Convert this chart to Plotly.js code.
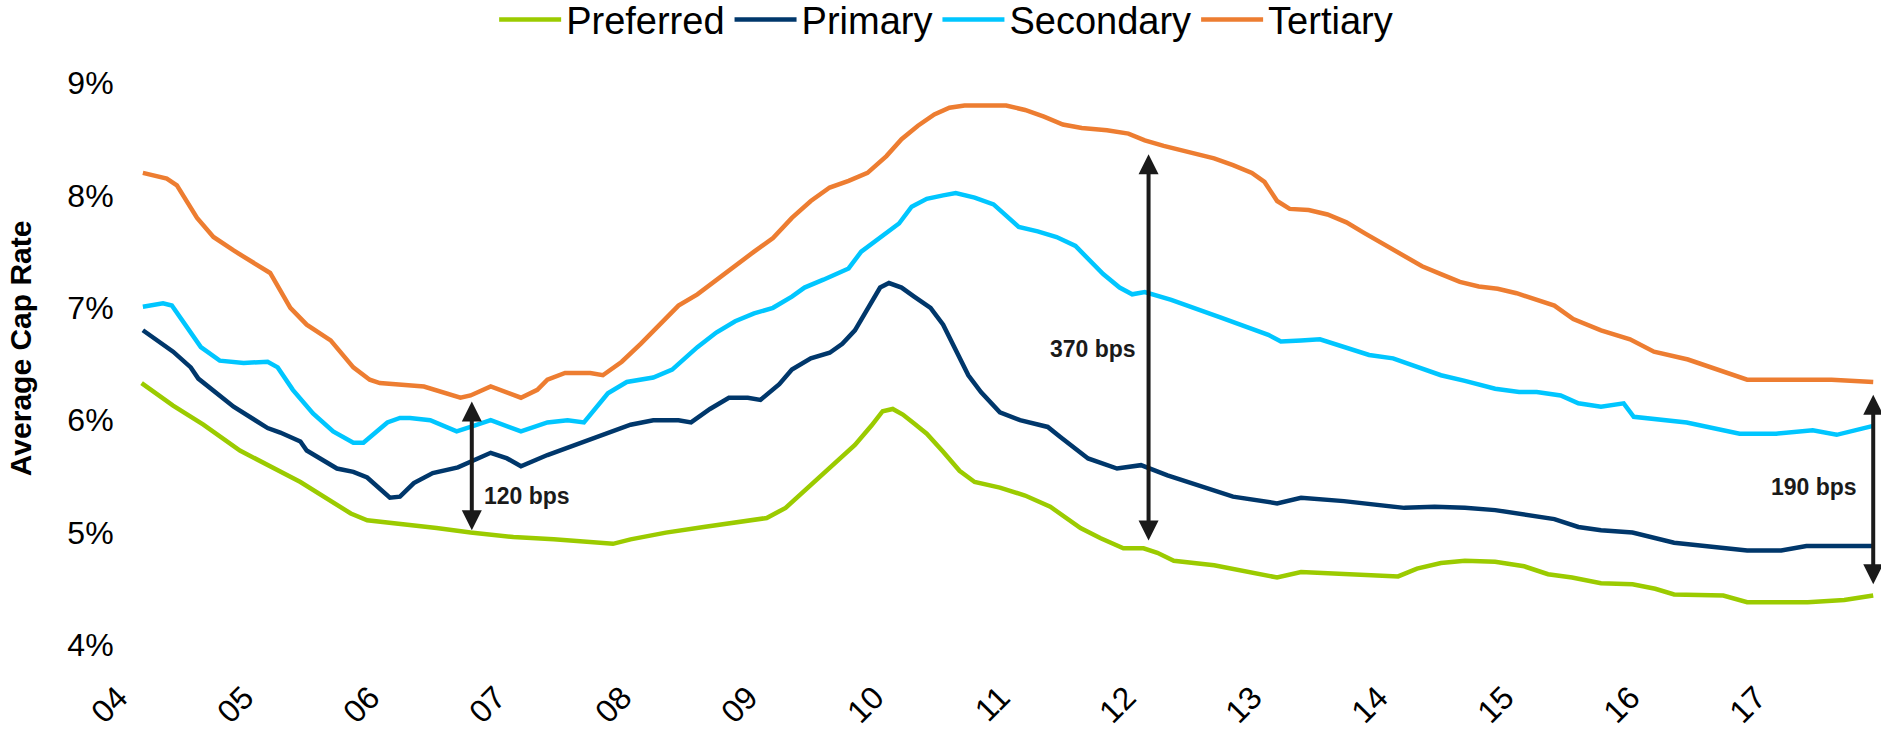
<!DOCTYPE html>
<html>
<head>
<meta charset="utf-8">
<script src="https://cdn.plot.ly/plotly-3.0.1.min.js"></script>
<style>
  html, body { margin: 0; padding: 0; background: #ffffff; }
  #chart { width: 1881px; height: 731px; }
</style>
</head>
<body>
<div id="chart"></div>
<script>
// ---- Data (decimal years, cap rate in %) ----
const preferredX = [2004.09,2004.34,2004.58,2004.87,2005.35,2005.63,2005.75,2005.88,2006.14,2006.43,2006.70,2007.04,2007.36,2007.70,2007.83,2007.97,2008.25,2008.55,2008.85,2009.05,2009.20,2009.40,2009.60,2009.75,2009.88,2009.97,2010.05,2010.13,2010.22,2010.32,2010.45,2010.58,2010.70,2010.82,2010.90,2011.10,2011.30,2011.54,2011.70,2011.88,2012.04,2012.15,2012.28,2012.60,2012.89,2013.10,2013.29,2013.63,2013.87,2014.06,2014.21,2014.40,2014.59,2014.83,2015.06,2015.25,2015.44,2015.67,2015.92,2016.10,2016.25,2016.64,2016.83,2017.31,2017.60,2017.83];
const preferredY = [6.33,6.13,5.96,5.73,5.45,5.25,5.17,5.11,5.08,5.04,5.00,4.96,4.94,4.91,4.90,4.94,5.00,5.05,5.10,5.13,5.22,5.42,5.62,5.78,5.95,6.08,6.10,6.05,5.97,5.88,5.72,5.55,5.45,5.42,5.40,5.33,5.23,5.04,4.95,4.86,4.86,4.82,4.75,4.71,4.65,4.60,4.65,4.63,4.62,4.61,4.68,4.73,4.75,4.74,4.70,4.63,4.60,4.55,4.54,4.50,4.45,4.44,4.38,4.38,4.40,4.44];

const primaryX = [2004.10,2004.34,2004.48,2004.54,2004.82,2005.09,2005.19,2005.35,2005.40,2005.64,2005.77,2005.88,2006.06,2006.14,2006.25,2006.40,2006.60,2006.86,2006.99,2007.10,2007.31,2007.57,2007.79,2007.97,2008.15,2008.35,2008.45,2008.60,2008.75,2008.90,2009.00,2009.15,2009.25,2009.40,2009.55,2009.65,2009.75,2009.85,2009.95,2010.02,2010.12,2010.22,2010.35,2010.45,2010.55,2010.65,2010.75,2010.85,2010.90,2011.06,2011.28,2011.38,2011.60,2011.83,2012.02,2012.23,2012.49,2012.75,2013.10,2013.23,2013.29,2013.63,2013.87,2014.11,2014.35,2014.59,2014.83,2015.06,2015.30,2015.49,2015.67,2015.92,2016.11,2016.25,2016.83,2017.10,2017.30,2017.83];
const primaryY = [6.80,6.61,6.47,6.37,6.12,5.93,5.89,5.81,5.73,5.57,5.54,5.49,5.31,5.32,5.44,5.53,5.58,5.71,5.66,5.59,5.69,5.80,5.89,5.96,6.00,6.00,5.98,6.10,6.20,6.20,6.18,6.32,6.45,6.55,6.60,6.68,6.80,7.00,7.18,7.22,7.18,7.10,7.00,6.85,6.62,6.40,6.25,6.12,6.07,6.00,5.94,5.85,5.66,5.57,5.60,5.51,5.41,5.32,5.26,5.29,5.31,5.28,5.25,5.22,5.23,5.22,5.20,5.16,5.12,5.05,5.02,5.00,4.95,4.91,4.84,4.84,4.88,4.88];

const secondaryX = [2004.10,2004.26,2004.33,2004.56,2004.71,2004.90,2005.09,2005.17,2005.29,2005.45,2005.61,2005.77,2005.85,2006.04,2006.14,2006.22,2006.38,2006.59,2006.70,2006.86,2007.10,2007.31,2007.47,2007.60,2007.79,2007.94,2008.15,2008.30,2008.40,2008.50,2008.65,2008.80,2008.95,2009.10,2009.25,2009.35,2009.50,2009.60,2009.70,2009.80,2009.95,2010.10,2010.20,2010.32,2010.45,2010.55,2010.70,2010.85,2010.95,2011.05,2011.20,2011.35,2011.50,2011.62,2011.72,2011.85,2011.95,2012.05,2012.26,2012.66,2012.87,2013.03,2013.13,2013.24,2013.29,2013.44,2013.63,2013.83,2014.02,2014.21,2014.40,2014.59,2014.83,2015.02,2015.16,2015.35,2015.49,2015.67,2015.85,2015.93,2016.19,2016.35,2016.77,2017.06,2017.35,2017.54,2017.83];
const secondaryY = [7.01,7.04,7.02,6.65,6.53,6.51,6.52,6.47,6.27,6.06,5.90,5.80,5.80,5.98,6.02,6.02,6.00,5.90,5.94,6.00,5.90,5.98,6.00,5.98,6.24,6.34,6.38,6.45,6.55,6.65,6.78,6.88,6.95,7.00,7.10,7.18,7.25,7.30,7.35,7.50,7.62,7.75,7.90,7.97,8.00,8.02,7.98,7.92,7.82,7.72,7.68,7.63,7.55,7.42,7.30,7.18,7.12,7.14,7.07,6.91,6.83,6.76,6.70,6.70,6.71,6.72,6.65,6.58,6.55,6.48,6.40,6.35,6.28,6.25,6.25,6.22,6.15,6.12,6.15,6.03,6.00,5.98,5.88,5.88,5.91,5.87,5.95];

const tertiaryX = [2004.10,2004.29,2004.37,2004.53,2004.66,2004.82,2005.11,2005.27,2005.40,2005.59,2005.77,2005.90,2005.98,2006.33,2006.62,2006.70,2006.86,2007.10,2007.23,2007.31,2007.45,2007.65,2007.75,2007.90,2008.05,2008.20,2008.35,2008.50,2008.65,2008.80,2008.95,2009.10,2009.25,2009.40,2009.55,2009.70,2009.85,2010.00,2010.12,2010.25,2010.38,2010.50,2010.62,2010.95,2011.10,2011.25,2011.40,2011.55,2011.75,2011.92,2012.05,2012.20,2012.40,2012.60,2012.75,2012.90,2013.00,2013.10,2013.20,2013.35,2013.50,2013.65,2013.80,2013.95,2014.10,2014.25,2014.40,2014.55,2014.70,2014.85,2015.00,2015.15,2015.30,2015.45,2015.67,2015.90,2016.09,2016.36,2016.83,2017.50,2017.83];
const tertiaryY = [8.20,8.15,8.09,7.80,7.63,7.51,7.31,7.00,6.85,6.71,6.47,6.36,6.33,6.30,6.20,6.22,6.30,6.20,6.27,6.36,6.42,6.42,6.40,6.52,6.68,6.85,7.02,7.12,7.25,7.38,7.50,7.62,7.80,7.95,8.07,8.13,8.20,8.35,8.50,8.62,8.72,8.78,8.80,8.80,8.76,8.70,8.63,8.60,8.58,8.55,8.49,8.44,8.38,8.33,8.27,8.20,8.12,7.95,7.88,7.87,7.83,7.76,7.66,7.56,7.46,7.37,7.30,7.23,7.19,7.17,7.13,7.08,7.02,6.90,6.80,6.72,6.61,6.54,6.36,6.36,6.34];

const seriesNames = ["Preferred", "Primary", "Secondary", "Tertiary"];
const seriesColors = ["#9BCB00", "#00376B", "#00C6FF", "#ED7D31"];

const yearTicks = [2004,2005,2006,2007,2008,2009,2010,2011,2012,2013,2014,2015,2016,2017];
const yearLabels = ["04","05","06","07","08","09","10","11","12","13","14","15","16","17"];
const rateTicks = [4,5,6,7,8,9];
const rateLabels = ["4%","5%","6%","7%","8%","9%"];

// spread arrows between Preferred and Tertiary
const spreadYears = [2006.71, 2012.08, 2017.83];
const spreadLow = [5.02, 4.93, 4.54];
const spreadHigh = [6.18, 8.38, 6.24];
const spreadText = ["120 bps", "370 bps", "190 bps"];
const spreadTextX = [2007.15, 2011.64, 2017.36];
const spreadTextY = [5.33, 6.63, 5.41];

const xs = [preferredX, primaryX, secondaryX, tertiaryX];
const ys = [preferredY, primaryY, secondaryY, tertiaryY];

const traces = seriesNames.map((n, i) => ({
  type: "scatter", mode: "lines", name: n,
  x: xs[i], y: ys[i],
  line: { color: seriesColors[i], width: 4.5 },
  hoverinfo: "x+y"
}));

const annotations = [];
spreadYears.forEach((yr, i) => {
  annotations.push({
    x: yr, y: spreadLow[i], xref: "x", yref: "y",
    ax: yr, ay: spreadHigh[i], axref: "x", ayref: "y",
    text: "", showarrow: true, arrowside: "end+start",
    arrowhead: 2, startarrowhead: 2, arrowsize: 1, startarrowsize: 1,
    arrowwidth: 4, arrowcolor: "#1a1a1a", standoff: 0, startstandoff: 0
  });
  annotations.push({
    x: spreadTextX[i], y: spreadTextY[i], xref: "x", yref: "y",
    xanchor: "center", yanchor: "middle",
    text: "<b>" + spreadText[i] + "</b>", showarrow: false,
    font: { family: "Liberation Sans, Arial, sans-serif", size: 23, color: "#1a1a1a" }
  });
});
annotations.push({
  xref: "paper", yref: "paper", x: -0.0624, y: 0.528,
  xanchor: "center", yanchor: "middle",
  text: "<b>Average Cap Rate</b>", textangle: -90, showarrow: false,
  font: { family: "Liberation Sans, Arial, sans-serif", size: 30, color: "#000000" }
});

const layout = {
  width: 1881, height: 731,
  paper_bgcolor: "#ffffff", plot_bgcolor: "#ffffff",
  margin: { l: 129, r: 4, t: 83, b: 86 },
  font: { family: "Liberation Sans, Arial, sans-serif", color: "#000000", size: 32 },
  showlegend: true,
  legend: {
    orientation: "h", xref: "container", yref: "container",
    x: 0.503, y: 0.973, xanchor: "center", yanchor: "middle",
    font: { size: 38, color: "#000000" }, itemwidth: 62,
    bgcolor: "rgba(0,0,0,0)"
  },
  xaxis: {
    range: [2003.99, 2017.86], tickmode: "array", tickvals: yearTicks, ticktext: yearLabels,
    tickangle: -45, showgrid: false, zeroline: false, showline: false,
    ticks: "outside", ticklen: 4, tickcolor: "rgba(0,0,0,0)",
    ticklabelstandoff: 16, ticklabelshift: -12,
    tickfont: { size: 32, color: "#000000" }, fixedrange: true
  },
  yaxis: {
    range: [4, 9], tickmode: "array", tickvals: rateTicks, ticktext: rateLabels,
    showgrid: false, zeroline: false, showline: false,
    ticks: "outside", ticklen: 8, tickcolor: "rgba(0,0,0,0)",
    tickfont: { size: 32, color: "#000000" }, fixedrange: true
  },
  annotations: annotations
};

Plotly.newPlot("chart", traces, layout, { displayModeBar: false, staticPlot: true });
</script>
</body>
</html>
